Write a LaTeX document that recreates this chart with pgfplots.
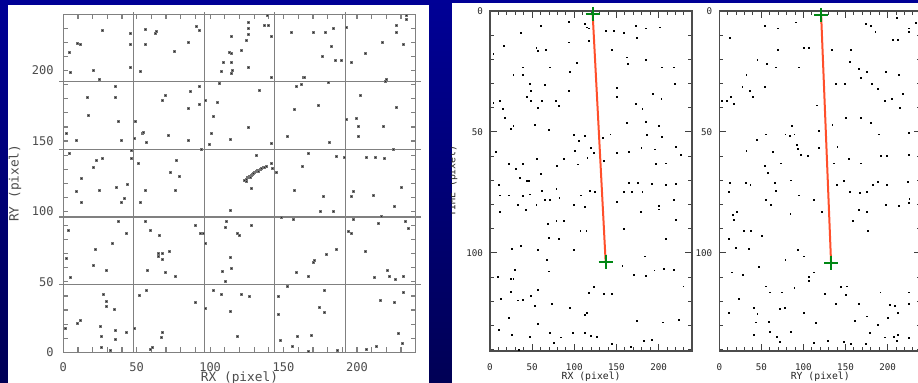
\documentclass[border=0pt]{standalone}
\usepackage{fontspec}
\setmainfont{DejaVu Sans Mono}
\usepackage{pgfplots}
\usepackage{pgfplotstable}
\pgfplotsset{compat=1.18}

\definecolor{bgtop}{RGB}{0,0,150}
\definecolor{bgbot}{RGB}{0,0,85}
\definecolor{trackred}{RGB}{255,60,20}
\definecolor{crossgreen}{RGB}{0,135,20}

\pgfplotstableread{
x y
4.1 213.3
4.5 198.9
9.8 219.7
11.3 218.7
20.4 200.3
24.5 193.9
26.5 228.7
45.4 226.3
45.4 218.5
45.4 202.2
52.4 199.6
55.6 229.6
55.6 218.5
62.4 226.3
63.5 228.2
75.5 213.5
85.0 220.1
90.5 231.3
92.5 228.4
107.5 199.6
109.3 206.2
113.2 212.8
114.3 197.9
114.3 206.0
114.5 212.1
114.5 224.6
115.4 200.0
121.3 214.5
124.7 221.3
125.9 229.8
126.1 225.8
126.3 234.1
126.3 202.4
136.7 232.2
139.7 232.2
139.2 239.5
141.5 224.4
141.5 195.1
155.1 227.2
163.7 195.1
170.1 227.2
176.2 210.2
178.2 227.2
182.3 217.3
184.1 229.8
185.0 207.1
189.1 207.1
193.0 231.0
196.1 206.2
205.4 212.3
217.0 219.9
219.3 192.5
226.8 232.2
227.0 227.2
231.3 218.7
233.6 239.3
233.6 236.2
2.3 155.4
8.6 150.4
16.6 181.4
16.8 168.4
35.1 188.9
35.1 181.4
37.2 164.1
39.5 150.4
49.2 164.1
48.5 151.6
53.7 155.8
54.6 156.3
56.2 149.0
67.1 178.8
69.2 182.3
71.2 154.2
85.0 173.6
85.0 150.4
86.4 185.4
92.5 188.9
92.5 176.4
96.4 179.0
94.1 144.2
99.5 147.6
100.7 155.4
102.0 167.4
105.2 177.3
106.1 191.3
113.4 151.3
125.9 160.1
133.6 186.3
141.5 148.7
152.4 153.5
157.1 172.4
158.9 188.9
162.4 190.1
164.4 195.1
173.5 175.2
180.3 191.5
181.4 149.2
193.0 165.3
199.3 166.2
201.1 160.3
201.1 153.5
202.0 182.3
218.1 160.3
220.0 193.9
227.0 174.0
224.5 144.2
4.1 141.2
8.6 114.4
12.5 123.4
12.5 106.4
20.4 131.2
22.7 136.4
24.5 115.2
26.3 137.4
36.3 117.5
39.5 106.4
41.5 109.2
43.3 119.4
46.3 137.4
46.3 143.5
51.0 134.1
55.8 115.2
52.2 106.4
73.2 127.7
77.1 136.4
76.0 115.2
78.9 125.3
113.4 100.5
128.1 116.3
131.3 140.2
142.4 130.5
145.1 127.5
157.4 115.2
166.7 141.2
162.8 132.4
176.9 111.1
175.3 100.3
183.7 100.3
186.2 139.3
191.4 138.8
196.1 111.1
197.3 114.0
206.3 138.8
210.9 111.6
212.5 138.8
218.8 137.4
225.2 104.0
230.2 117.5
123.1 122.3
124.3 123.0
125.2 123.9
125.9 124.6
126.8 125.1
127.7 125.8
128.6 126.5
129.3 127.2
130.4 127.7
131.5 128.4
132.2 128.9
133.1 129.3
134.2 130.1
135.1 130.5
136.1 131.0
137.2 131.7
138.3 132.2
124.7 121.1
127.4 124.6
129.7 127.0
132.9 128.6
141.5 134.1
2.3 66.7
4.5 53.2
3.4 86.8
20.4 61.5
22.0 73.1
29.0 57.9
33.6 77.3
37.4 92.7
43.1 84.4
55.6 93.2
59.0 86.8
57.4 57.9
64.9 70.2
64.9 67.9
65.3 83.0
67.6 70.2
67.6 66.2
72.1 71.4
69.8 56.5
76.0 54.1
90.2 90.3
93.0 84.4
95.2 84.4
96.6 77.3
108.6 57.2
110.2 50.1
110.4 89.1
111.1 92.7
113.4 67.4
114.1 59.6
118.8 84.4
120.2 83.2
127.7 90.3
148.5 95.5
156.5 94.3
159.0 56.5
170.1 63.6
171.2 65.5
167.1 54.1
179.4 69.5
186.2 73.1
193.9 85.6
196.1 84.4
197.3 94.3
205.4 71.4
212.0 53.0
214.3 91.5
216.8 96.5
220.6 58.2
222.2 54.1
225.9 51.8
231.3 54.1
233.1 92.7
235.1 88.0
1.1 17.0
9.8 20.6
11.3 22.9
24.9 18.2
25.6 11.6
25.6 3.3
27.2 41.4
29.0 32.4
29.5 36.4
31.7 1.7
34.5 30.5
35.1 15.4
35.1 9.2
43.1 14.2
48.3 17.0
51.7 40.7
56.2 44.2
59.0 2.4
60.5 3.3
66.7 10.6
67.6 14.4
90.2 35.5
96.8 31.4
102.0 44.2
107.7 41.4
113.4 29.3
118.8 11.6
121.1 41.4
127.0 39.5
146.3 39.5
146.3 26.7
147.6 8.5
155.8 4.5
152.4 46.6
159.2 11.6
168.9 12.3
166.9 0.9
174.6 31.7
178.0 28.4
178.0 44.2
186.4 1.7
206.3 2.1
213.2 4.5
216.1 36.7
225.2 35.5
228.1 13.5
231.3 42.6
230.6 6.4
}\leftdata

\pgfplotstableread{
x y
93.1 4.4
113.1 5.4
115.1 6.8
117.1 7.2
60.0 6.1
138.0 8.4
146.9 8.4
159.2 9.1
173.5 6.1
184.9 7.2
202.0 6.8
36.7 9.0
117.6 12.3
93.1 13.0
174.7 11.3
16.3 14.4
55.1 15.1
57.1 16.4
66.5 16.2
144.9 16.2
162.0 19.2
184.9 20.3
163.3 22.0
204.1 23.3
218.4 23.3
4.1 17.8
102.9 21.3
38.8 23.3
71.0 23.3
27.8 26.4
38.8 26.4
94.7 25.1
219.6 30.2
46.9 30.2
65.3 30.5
49.0 33.0
93.9 33.0
151.0 31.6
61.2 37.2
78.4 37.2
44.1 35.5
151.0 35.5
193.1 34.1
203.3 36.2
4.1 37.8
11.4 37.2
48.6 37.2
57.1 39.9
81.6 39.2
15.5 40.6
173.5 38.3
180.8 40.3
17.6 44.3
27.8 47.5
24.5 48.9
53.1 47.2
69.4 49.2
162.4 46.1
184.9 45.9
200.0 47.5
100.0 51.1
112.2 51.7
142.9 51.0
185.7 51.1
204.1 51.9
105.3 53.7
133.9 52.3
220.4 56.1
6.9 58.3
119.6 56.5
123.3 58.6
151.0 58.6
165.3 58.3
179.6 56.5
195.9 57.2
100.4 57.9
104.1 63.4
115.5 60.6
22.4 63.1
38.8 63.1
30.6 65.2
55.9 61.3
79.6 64.1
87.8 61.3
134.7 62.0
197.1 63.1
209.0 63.0
226.5 59.3
60.4 67.5
35.9 68.9
44.1 70.3
46.1 70.3
10.2 71.7
46.9 75.8
61.2 74.4
78.8 73.5
118.4 74.4
124.5 74.9
164.5 71.1
175.5 71.1
191.8 71.3
208.2 71.7
220.4 71.3
12.2 76.2
22.4 76.2
38.8 76.5
65.3 77.9
71.4 78.2
82.4 77.3
108.2 76.2
158.4 74.9
168.6 74.9
180.8 74.9
218.4 78.2
32.7 80.2
42.9 82.3
12.2 83.0
55.1 80.0
100.0 80.0
112.2 80.9
151.0 79.0
178.8 83.1
200.0 82.0
200.0 80.4
68.6 88.0
78.8 86.9
87.8 86.9
107.3 90.7
114.3 90.7
159.2 90.1
220.4 86.5
69.4 93.8
81.6 94.2
25.7 98.2
36.7 97.2
57.1 98.6
100.0 98.6
208.2 94.1
183.7 101.4
157.1 105.5
67.3 102.8
69.4 107.6
29.8 106.9
24.5 110.8
27.8 110.8
9.0 109.9
170.2 109.1
184.9 109.4
195.1 107.2
206.1 106.6
218.4 106.9
229.4 113.8
57.1 115.2
49.0 117.7
32.7 119.6
38.8 119.3
53.1 121.7
13.1 119.1
25.3 116.2
73.5 121.0
117.6 116.6
123.7 114.1
134.7 116.9
144.9 116.9
115.1 124.9
112.2 125.7
95.1 122.8
22.4 126.9
10.2 131.8
26.5 133.8
46.9 134.5
57.1 129.3
71.4 132.9
83.7 134.9
98.0 132.9
112.2 132.9
119.6 134.3
127.3 134.5
75.5 137.0
144.1 137.7
174.7 128.0
182.9 136.3
191.8 135.9
205.3 128.7
224.5 127.6
34.7 140.1
167.3 138.7
}\middata

\pgfplotstableread{
x y
12.6 11.3
54.6 6.1
69.5 7.2
91.2 4.7
100.2 15.1
106.9 15.1
133.6 16.2
156.0 16.2
173.7 5.4
180.4 6.1
185.5 8.8
205.9 12.0
212.2 12.0
224.8 7.2
224.8 8.8
233.4 5.1
211.0 3.0
69.9 16.2
45.2 20.3
56.6 22.0
66.8 23.3
94.3 23.3
32.2 26.5
27.5 31.4
36.1 33.0
40.1 35.5
53.8 31.4
13.8 35.5
17.3 38.5
8.6 37.2
2.8 37.2
115.9 39.0
138.3 30.0
149.3 30.2
167.8 27.5
175.6 25.1
155.2 21.0
165.8 23.8
198.4 25.1
213.0 26.5
181.5 30.2
188.6 32.3
205.1 36.5
217.7 34.4
196.5 37.2
214.9 39.9
150.1 44.1
167.8 44.1
179.6 46.1
189.4 51.0
224.8 50.3
134.4 47.2
118.7 49.6
55.0 51.0
44.8 53.3
78.6 51.0
84.1 51.7
89.2 51.0
86.1 47.5
91.9 55.5
93.1 56.9
104.9 59.7
97.1 59.5
63.7 58.1
32.2 57.9
117.9 56.5
140.3 56.2
136.3 63.0
154.0 61.0
167.8 63.0
192.5 59.9
199.2 59.9
224.8 59.3
54.6 64.1
57.8 66.9
72.7 63.0
12.6 71.0
31.4 71.0
11.4 74.9
36.9 71.7
65.6 71.0
67.6 74.4
85.3 70.0
94.3 76.2
112.0 77.9
139.9 71.7
148.1 70.3
155.2 74.9
167.0 75.1
175.6 74.7
182.3 71.7
188.6 70.7
199.2 71.7
224.0 70.7
225.9 77.5
15.7 84.1
20.4 83.0
17.3 86.2
55.8 77.9
60.9 80.0
84.5 83.8
121.8 83.1
158.7 86.9
165.8 82.3
175.6 83.1
176.8 90.7
198.4 80.2
213.0 80.7
224.8 79.3
11.0 94.2
29.1 90.7
37.3 90.7
51.1 93.1
19.3 97.9
35.4 98.2
93.1 98.9
100.2 101.4
112.8 108.0
106.9 109.9
106.1 111.7
78.6 103.0
47.2 105.9
14.5 108.0
28.3 109.0
55.8 113.8
59.7 116.3
74.7 116.3
89.2 114.5
125.7 117.0
150.9 117.3
144.2 114.1
152.1 113.8
165.8 121.0
191.4 116.3
224.8 116.3
11.4 124.9
23.6 119.1
40.9 122.8
45.2 125.3
44.0 128.7
58.9 128.3
71.5 123.2
78.2 122.8
100.2 124.9
114.7 129.0
138.3 121.0
161.1 128.0
174.9 126.2
188.6 129.7
200.4 126.9
203.1 121.4
208.3 121.8
212.2 124.9
224.8 121.0
40.9 133.8
59.7 132.5
68.8 134.5
71.5 136.6
85.3 132.5
112.0 137.0
129.3 136.2
148.1 136.9
156.0 137.6
173.7 137.6
178.8 133.1
197.2 134.9
207.1 134.5
212.2 133.8
211.0 136.2
224.8 135.2
}\rightdata

\pgfplotsset{
  rightpanel/.style={
    anchor=south west, scale only axis,
    width=101.15pt, height=170pt,
    xmin=0, xmax=240, ymin=0, ymax=140.5, y dir=reverse,
    xtick={0,50,100,150,200}, ytick={0,50,100},
    minor xtick={0,10,...,240}, minor ytick={0,10,...,140},
    tick align=inside, major tick length=3.5pt, minor tick length=2pt,
    tick style={black!75, line width=0.5pt},
    axis line style={black!70, line width=0.8pt},
    /pgf/number format/assume math mode=true,
    ticklabel style={font=\fontsize{4.6}{5}\selectfont, text=black!85},
    xticklabel style={yshift=-2.6pt},
    label style={font=\fontsize{4.9}{5.5}\selectfont, text=black!85},
    xlabel style={at={(axis description cs:0.5,-0.0756)}, anchor=center, inner sep=0pt},
    clip=false,
  },
}

\begin{document}
\begin{tikzpicture}
\path[use as bounding box] (0,0) rectangle (459pt,191.5pt);
\clip (0,0) rectangle (459pt,191.5pt);
\shade[top color=bgtop, bottom color=bgbot] (0,0) rectangle (459pt,191.5pt);
\fill[white] (4pt,0) rectangle (214.35pt,188.85pt);
\fill[white] (225.85pt,0) rectangle (459pt,190pt);

\begin{axis}[
  at={(31.65pt,15.35pt)}, anchor=south west, scale only axis,
  width=176.2pt, height=169pt,
  xmin=0, xmax=240, ymin=0, ymax=240,
  xtick={0,50,100,150,200}, ytick={0,50,100,150,200},
  minor xtick={10,20,...,230}, minor ytick={10,20,...,230},
  tick align=inside, major tick length=2.5pt, minor tick length=2.5pt,
  tick style={black!50, line width=0.6pt},
  axis line style={black!50, line width=0.7pt},
  /pgf/number format/assume math mode=true,
  ticklabel style={font=\fontsize{6}{7}\selectfont, text=black!70},
  xticklabel style={yshift=-1.5pt},
  yticklabel style={xshift=-1.3pt},
  xlabel={RX (pixel)}, ylabel={RY (pixel)},
  label style={font=\fontsize{6.4}{7}\selectfont, text=black!70},
  xlabel style={at={(axis description cs:0.5,-0.075)}, anchor=center, inner sep=0pt},
  ylabel style={at={(axis description cs:-0.137,0.5)}, anchor=center},
  clip=false,
]
\draw[black!50, line width=0.6pt] (axis cs:-2.7,48) -- (axis cs:243.9,48);
\draw[black!50, line width=0.6pt] (axis cs:-2.7,96) -- (axis cs:243.9,96);
\draw[black!50, line width=0.6pt] (axis cs:-2.7,144) -- (axis cs:243.9,144);
\draw[black!50, line width=0.6pt] (axis cs:-2.7,192) -- (axis cs:243.9,192);
\draw[black!50, line width=0.6pt] (axis cs:48,0) -- (axis cs:48,241.4);
\draw[black!50, line width=0.6pt] (axis cs:96,0) -- (axis cs:96,241.4);
\draw[black!50, line width=0.6pt] (axis cs:144,0) -- (axis cs:144,241.4);
\draw[black!50, line width=0.6pt] (axis cs:192,0) -- (axis cs:192,241.4);
\addplot[only marks, mark=square*, mark size=0.5pt,
  mark options={draw=black!55, fill=black!85, line width=0.3pt}] table {\leftdata};
\end{axis}

\begin{scope}
\clip (225.85pt,0) rectangle (459pt,191.5pt);
\begin{axis}[rightpanel, at={(245pt,16pt)},
  xlabel={RX (pixel)}, ylabel={TIME (pixel)},
  ylabel style={at={(axis description cs:-0.185,0.5)}, anchor=center},
]
\addplot[only marks, mark=square*, mark size=0.22pt,
  mark options={draw=none, fill=black!32}] table {\middata};
\addplot[trackred, line width=1pt, opacity=0.9] coordinates {(121.8,1.2) (137.2,103.6)};
\addplot[only marks, mark=+, mark size=3.5pt, crossgreen, line width=1pt]
  coordinates {(121.8,1.2) (137.2,103.6)};
\end{axis}

\begin{axis}[rightpanel, at={(359.65pt,16pt)}, width=101pt,
  xlabel={RY (pixel)},
]
\addplot[only marks, mark=square*, mark size=0.22pt,
  mark options={draw=none, fill=black!32}] table {\rightdata};
\addplot[trackred, line width=1pt, opacity=0.9] coordinates {(121.0,1.6) (132.8,104.0)};
\addplot[only marks, mark=+, mark size=3.5pt, crossgreen, line width=1pt]
  coordinates {(121.0,1.6) (132.8,104.0)};
\end{axis}
\end{scope}
\end{tikzpicture}
\end{document}
